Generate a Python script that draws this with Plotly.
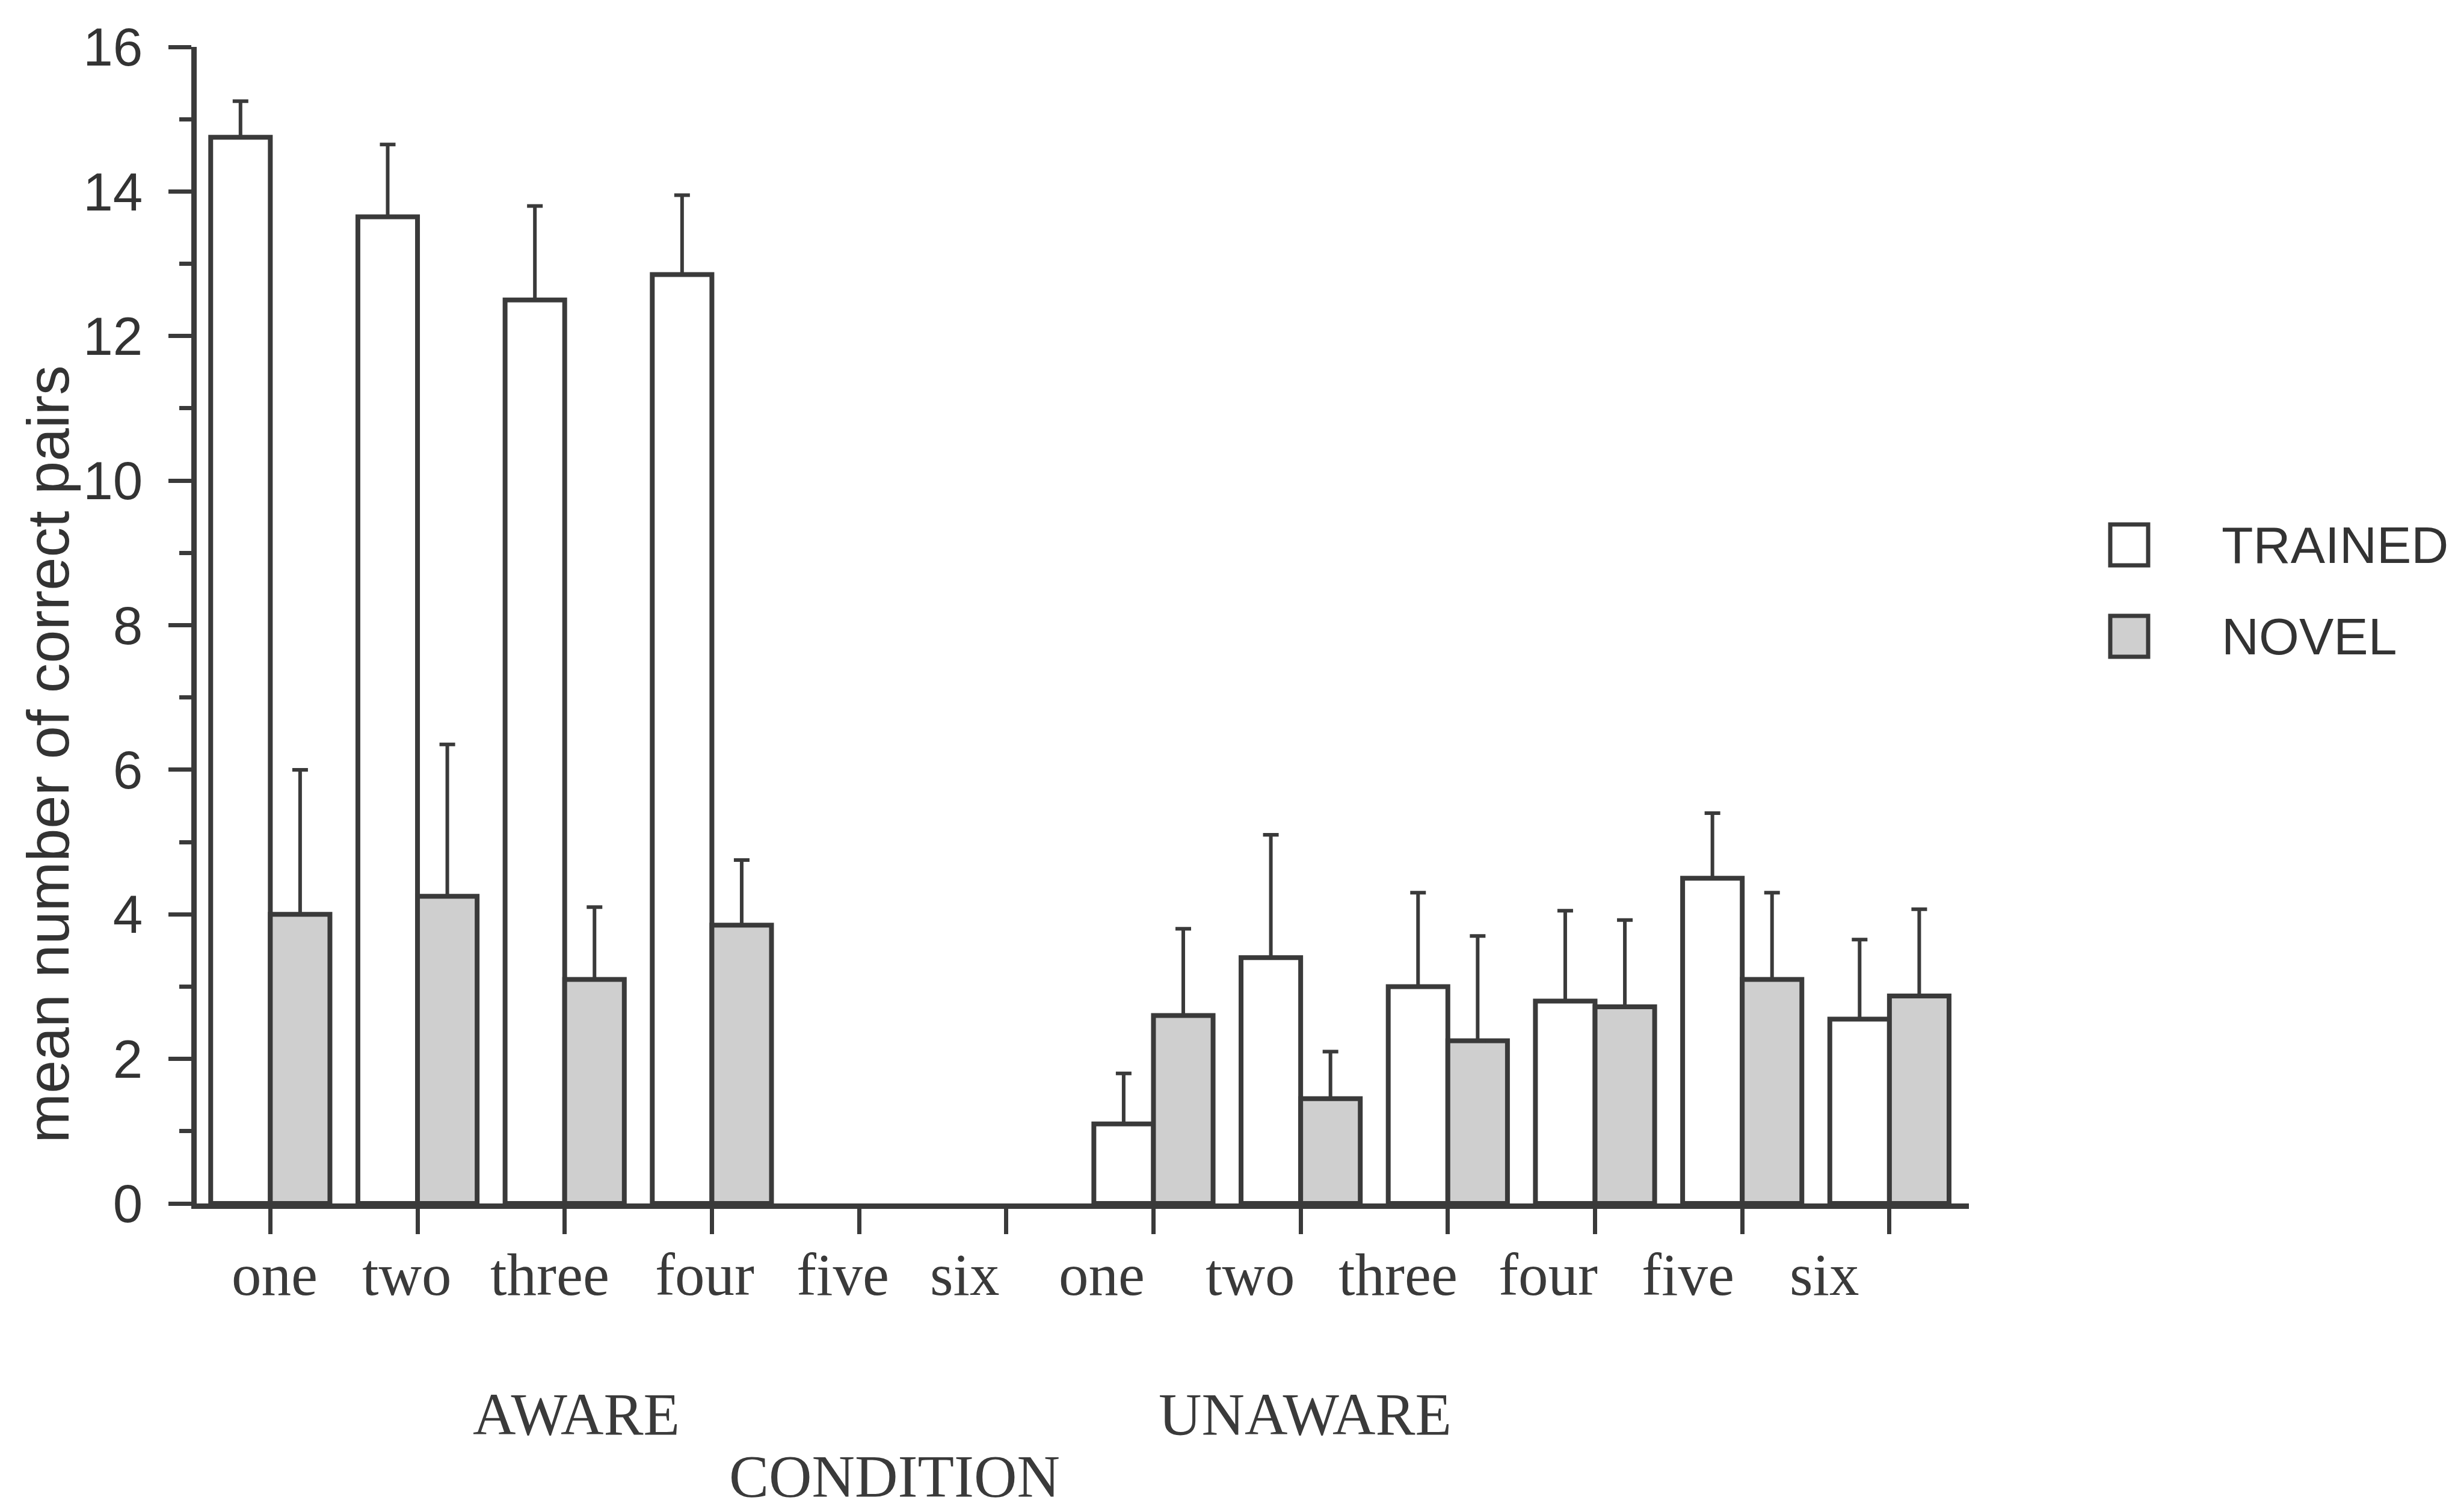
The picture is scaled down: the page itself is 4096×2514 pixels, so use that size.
import plotly.graph_objects as go

# ---- data -------------------------------------------------------------
group_names = ["AWARE", "UNAWARE"]
levels = ["one", "two", "three", "four", "five", "six"]
tick_labels = levels + levels

trained_mean = [14.75, 13.65, 12.5, 12.85, None, None, 1.1, 3.4, 3.0, 2.8, 4.5, 2.55]
trained_err = [0.5, 1.0, 1.3, 1.1, None, None, 0.7, 1.7, 1.3, 1.25, 0.9, 1.1]
novel_mean = [4.0, 4.25, 3.1, 3.85, None, None, 2.6, 1.45, 2.25, 2.72, 3.1, 2.87]
novel_err = [2.0, 2.1, 1.0, 0.9, None, None, 1.2, 0.65, 1.45, 1.2, 1.2, 1.2]

y_ticks = [0, 2, 4, 6, 8, 10, 12, 14, 16]

# ---- layout constants (pixels) ---------------------------------------
W, H = 4096, 2514
PL, PR, PT, PB = 326.5, 3273.0, 78.0, 2001.0
INK = "#3a3a3a"
NOVEL_FILL = "#cfcfcf"
SANS = "Liberation Sans, Arial, Helvetica, sans-serif"
SERIF = "Liberation Serif, Times New Roman, Times, serif"

# horizontal nudges of the level labels, in category units
label_nudge = [0.03, -0.07, -0.10, -0.05, -0.11, -0.28,
               -0.35, -0.34, -0.34, -0.32, -0.37, -0.44]


def px_x(px):
    return (px - PL) / (PR - PL)


def px_y(py):
    return (PB - py) / (PB - PT)


xs = list(range(len(tick_labels)))


def zeros_like(vals):
    return [0 if v is not None else None for v in vals]


fig = go.Figure()
fig.add_trace(go.Bar(
    name="TRAINED", x=xs, y=trained_mean,
    marker=dict(color="white", line=dict(color=INK, width=8)),
    error_y=dict(type="data", symmetric=False, array=trained_err,
                 arrayminus=zeros_like(trained_err),
                 color=INK, thickness=6, width=13),
))
fig.add_trace(go.Bar(
    name="NOVEL", x=xs, y=novel_mean,
    marker=dict(color=NOVEL_FILL, line=dict(color=INK, width=8)),
    error_y=dict(type="data", symmetric=False, array=novel_err,
                 arrayminus=zeros_like(novel_err),
                 color=INK, thickness=6, width=13),
))

annotations = []
# level labels under each tick
for i, lab in enumerate(tick_labels):
    annotations.append(dict(
        x=i + label_nudge[i], xref="x", y=0, yref="paper",
        text=lab, showarrow=False, xanchor="center", yanchor="bottom",
        yshift=-175, font=dict(family=SERIF, size=99, color=INK)))

# group labels
group_centers = [2.08, 7.03]
for gx, name in zip(group_centers, group_names):
    annotations.append(dict(
        x=gx, xref="x", y=0, yref="paper", text=name, showarrow=False,
        xanchor="center", yanchor="bottom", yshift=-407,
        font=dict(family=SERIF, size=99, color=INK)))

annotations.append(dict(
    x=4.24, xref="x", y=0, yref="paper", text="CONDITION", showarrow=False,
    xanchor="center", yanchor="bottom", yshift=-510,
    font=dict(family=SERIF, size=99, color=INK)))

# y-axis title
annotations.append(dict(
    x=px_x(78), xref="paper", y=px_y(1254), yref="paper",
    text="mean number of correct pairs", textangle=-90, showarrow=False,
    xanchor="center", yanchor="middle",
    font=dict(family=SANS, size=99, color="#333333")))

# legend
shapes = []
legend_rows = [("TRAINED", "white", 906), ("NOVEL", NOVEL_FILL, 1058)]
for name, fill, cy in legend_rows:
    shapes.append(dict(
        type="rect", xref="paper", yref="paper",
        x0=px_x(3508), x1=px_x(3571), y0=px_y(cy + 34), y1=px_y(cy - 34),
        line=dict(color=INK, width=7), fillcolor=fill, layer="above"))
    annotations.append(dict(
        x=px_x(3691), xref="paper", y=px_y(cy), yref="paper", text=name,
        showarrow=False, xanchor="left", yanchor="middle",
        font=dict(family=SANS, size=86, color="#333333")))

fig.update_layout(
    width=W, height=H,
    margin=dict(l=PL, r=W - PR, t=PT, b=H - PB, pad=0),
    paper_bgcolor="white", plot_bgcolor="white",
    barmode="group", bargap=0.19, bargroupgap=0,
    showlegend=False,
    annotations=annotations, shapes=shapes,
    xaxis=dict(
        range=[-0.5, 11.54], tickmode="array", tickvals=xs,
        ticktext=[""] * len(xs), ticks="outside", ticklen=42, tickwidth=7,
        tickcolor=INK, showline=True, linecolor=INK, linewidth=9,
        showgrid=False, zeroline=False,
    ),
    yaxis=dict(
        range=[0, 16], tickmode="array", tickvals=y_ticks,
        ticks="outside", ticklen=38, tickwidth=7, tickcolor=INK,
        showline=True, linecolor=INK, linewidth=9, showgrid=False,
        zeroline=False, ticklabelstandoff=25,
        tickfont=dict(family=SANS, size=89, color="#333333"),
        minor=dict(dtick=1, ticks="outside", ticklen=20, tickwidth=7,
                   tickcolor=INK, showgrid=False),
    ),
)

fig.write_html("out.html")
